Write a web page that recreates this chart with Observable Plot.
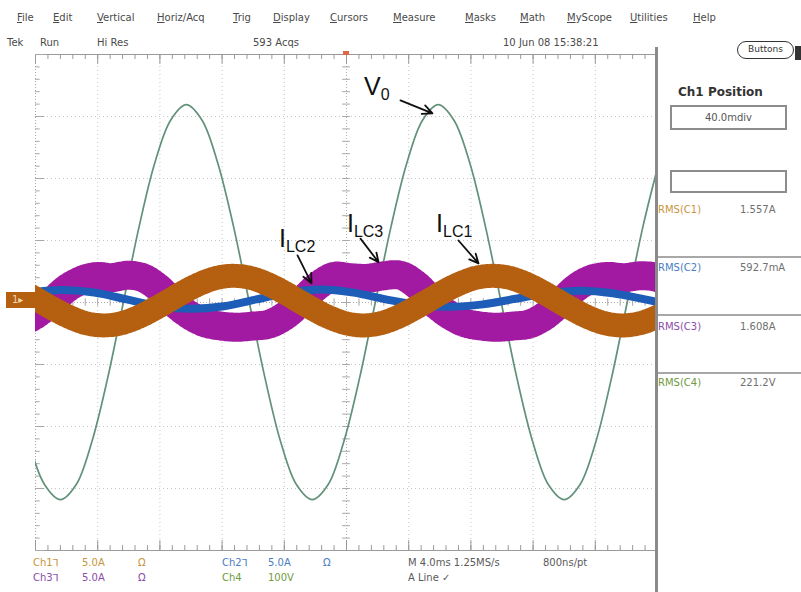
<!DOCTYPE html>
<html>
<head>
<meta charset="utf-8">
<script src="https://cdn.jsdelivr.net/npm/d3@7"></script>
<script src="https://cdn.jsdelivr.net/npm/@observablehq/plot@0.6"></script>
<style>
  body { margin: 0; background: #fff; }
  #scope { position: relative; width: 801px; height: 592px; overflow: hidden;
           font-family: "DejaVu Sans", sans-serif; color: #5a5a5a; background: #fff; }
  #scope svg { position: absolute; left: 0; top: 0; }
  .t { position: absolute; white-space: nowrap; font-size: 10px; line-height: 10px; }
  .box { position: absolute; border: 2px solid #8c8c8c; box-sizing: border-box; }
  .sep { position: absolute; background: #a8a8a8; }
</style>
</head>
<body>
<div id="scope"></div>
<script>
// ---- Waveform samples: time in ms (4 ms/div), amplitude in screen divisions ----
// Ch4: output voltage V0 (100 V/div)
const v0Time = [-20.43,-19.41,-18.40,-17.39,-16.38,-15.36,-14.35,-13.34,-12.33,-11.31,-10.30,-9.29,-8.28,-7.26,-6.25,-5.24,-4.23,-3.21,-2.20,-1.19,-0.18,0.84,1.85,2.86,3.88,4.89,5.90,6.91,7.93,8.94,9.95,10.96,11.98,12.99,14.00,15.01,16.03,17.04,18.05,19.06,20.08];
const v0Div  = [-2.25,-2.94,-3.18,-2.94,-2.25,-1.22,0,1.22,2.25,2.94,3.19,2.94,2.25,1.22,0,-1.22,-2.25,-2.94,-3.18,-2.94,-2.25,-1.22,0,1.22,2.25,2.94,3.19,2.94,2.25,1.22,0,-1.22,-2.25,-2.94,-3.18,-2.94,-2.25,-1.22,0,1.22,2.25];

// Ch1: I_LC1 (5 A/div)
const i1Time = [-20.81,-19.77,-18.73,-17.68,-16.64,-15.60,-14.56,-13.52,-12.47,-11.43,-10.39,-9.35,-8.31,-7.26,-6.22,-5.18,-4.14,-3.10,-2.06,-1.01,0.03,1.07,2.11,3.16,4.20,5.24,6.28,7.32,8.36,9.41,10.45,11.49,12.53,13.57,14.61,15.65,16.70,17.74,18.78,19.82,20.86];
const i1Div  = [0.18,0.03,-0.12,-0.25,-0.34,-0.37,-0.34,-0.25,-0.12,0.03,0.18,0.31,0.40,0.43,0.40,0.31,0.18,0.03,-0.12,-0.25,-0.34,-0.37,-0.34,-0.25,-0.12,0.03,0.18,0.31,0.40,0.43,0.40,0.31,0.18,0.03,-0.12,-0.25,-0.34,-0.37,-0.34,-0.25,-0.12];

// Ch2: I_LC2 (5 A/div)
const i2Time = [-20.38,-18.3,-16.22,-14.13,-12.05,-9.97,-7.88,-5.8,-3.72,-1.63,0.45,2.53,4.62,6.7,8.78,10.87,12.95,15.03,17.12,19.2,21.28];
const i2Div  = [0.16,0.20,0.16,0.05,-0.06,-0.10,-0.06,0.05,0.16,0.21,0.16,0.05,-0.04,-0.07,-0.03,0.06,0.15,0.19,0.15,0.05,-0.06];

// Ch3: I_LC3 (5 A/div)
const i3Time = [-21.0,-20.0,-19.0,-18.02,-17.03,-16.05,-15.07,-14.08,-13.1,-12.11,-11.13,-10.11,-9.09,-8.07,-7.05,-6.02,-5.0,-3.98,-2.96,-1.89,-0.82,0.25,1.32,2.38,3.45,4.52,5.59,6.61,7.63,8.65,9.67,10.7,11.72,12.74,13.76,14.78,15.8,16.82,17.84,18.86,19.88,20.9];
const i3Div  = [-0.33,-0.2,0,0.22,0.36,0.42,0.40,0.44,0.40,0.24,0,-0.2,-0.33,-0.38,-0.40,-0.38,-0.35,-0.22,0,0.26,0.42,0.40,0.39,0.43,0.44,0.28,0,-0.2,-0.33,-0.38,-0.40,-0.38,-0.35,-0.22,0,0.24,0.38,0.42,0.40,0.43,0.41,0.3];

// Ch1 ground reference (Ch1 position 40.0 mdiv)
const ch1Ground = [0.04];

// Trace labels: main letter, subscript, anchor (ms, div) and arrow (ms, div)
const noteMain = ["V", "I", "I", "I"];
const noteSub  = ["0", "LC2", "LC3", "LC1"];
const noteT    = [1.16, -4.31, 0.06, 5.79];
const noteV    = [3.34, 0.89, 1.13, 1.13];
const arrowT1  = [3.47, -3.15, 0.90, 7.20];
const arrowV1  = [3.26, 0.76, 1.03, 1.00];
const arrowT2  = [5.53, -2.25, 2.06, 8.49];
const arrowV2  = [3.05, 0.31, 0.65, 0.63];

// Instrument text
const menuItems = ["File","Edit","Vertical","Horiz/Acq","Trig","Display","Cursors","Measure","Masks","Math","MyScope","Utilities","Help"];
const statusItems = ["Tek", "Run", "Hi Res", "593 Acqs", "10 Jun 08 15:38:21"];
const rmsNames  = ["RMS(C1)", "RMS(C2)", "RMS(C3)", "RMS(C4)"];
const rmsValues = ["1.557A", "592.7mA", "1.608A", "221.2V"];
const chanRow1 = [["Ch1\u2142", "5.0A", "\u03A9"], ["Ch2\u2142", "5.0A", "\u03A9"]];
const chanRow2 = [["Ch3\u2142", "5.0A", "\u03A9"], ["Ch4", "100V", ""]];
const timebase = ["M 4.0ms 1.25MS/s", "800ns/pt", "A  Line  \u2713"];

// ---- Styling ----
const traceColor = {c1: "#b55f10", c2: "#1d5db8", c3: "#a21aa2", c4: "#62917a"};
const textColor  = {c1: "#c8963c", c2: "#4a7ec2", c3: "#8c4caa", c4: "#6f9a40"};
const menuLeft   = [17, 53, 97, 157, 233, 273, 330, 393, 465, 520, 567, 630, 693];
const statusLeft = [7, 40, 97, 253, 503];

const rows = (ts, vs) => ts.map((t, i) => ({t, v: vs[i]}));
const v0 = rows(v0Time, v0Div), i1 = rows(i1Time, i1Div), i2 = rows(i2Time, i2Div), i3 = rows(i3Time, i3Div);
const notes = noteMain.map((m, i) => ({main: m, sub: noteSub[i], t: noteT[i], v: noteV[i],
  t1: arrowT1[i], v1: arrowV1[i], t2: arrowT2[i], v2: arrowV2[i]}));

const divT = d3.range(-20, 20.01, 4);
const divV = d3.range(-4, 4.01, 1);
const minorT = d3.range(-20, 20.01, 0.8);
const minorV = d3.range(-4, 4.01, 0.2);
const curve = "catmull-rom";

const chart = Plot.plot({
  width: 801, height: 592,
  marginLeft: 35, marginRight: 144, marginTop: 54, marginBottom: 42,
  x: {domain: [-20, 20], axis: null},
  y: {domain: [-4, 4], axis: null},
  style: {background: "transparent", overflow: "visible"},
  marks: [
    // graticule
    Plot.ruleX(divT.filter(d => d > -20 && d < 20 && d !== 0), {stroke: "#c4c4c4", strokeDasharray: "1,3"}),
    Plot.ruleY(divV.filter(d => d > -4 && d < 4 && d !== 0), {stroke: "#c4c4c4", strokeDasharray: "1,3"}),
    Plot.ruleX([0], {stroke: "#b0b0b0", strokeDasharray: "1,2"}),
    Plot.ruleY([0], {stroke: "#b0b0b0", strokeDasharray: "1,2"}),
    Plot.ruleX(minorT, {y1: -0.06, y2: 0.06, stroke: "#a8a8a8"}),
    Plot.ruleY(minorV, {x1: -0.25, x2: 0.25, stroke: "#a8a8a8"}),
    Plot.ruleY([4, -4], {stroke: "#9a9a9a"}),
    Plot.ruleX([-20], {stroke: "#a8a8a8", strokeDasharray: "1,2"}),
    Plot.ruleX(minorT, {y1: 4, y2: 3.92, stroke: "#9a9a9a"}),
    Plot.ruleX(minorT, {y1: -4, y2: -3.92, stroke: "#9a9a9a"}),
    Plot.ruleX(divT, {y1: 4, y2: 3.84, stroke: "#9a9a9a"}),
    Plot.ruleX(divT, {y1: -4, y2: -3.84, stroke: "#9a9a9a"}),
    Plot.ruleY(minorV, {x1: -20, x2: -19.7, stroke: "#a8a8a8"}),
    Plot.ruleY(divV, {x1: -20, x2: -19.4, stroke: "#a8a8a8"}),
    // Ch4 output voltage
    Plot.line(v0, {x: "t", y: "v", stroke: traceColor.c4, strokeWidth: 1.7, curve, clip: true}),
    // Ch3 current (noisy band)
    Plot.line(i3, {x: "t", y: "v", stroke: traceColor.c3, strokeWidth: 29, strokeDasharray: "1,3", curve, clip: true}),
    Plot.line(i3, {x: "t", y: "v", stroke: traceColor.c3, strokeWidth: 24, strokeDasharray: "2,1.5", curve, clip: true}),
    Plot.line(i3, {x: "t", y: "v", stroke: traceColor.c3, strokeWidth: 16, curve, clip: true}),
    // Ch2 current
    Plot.line(i2, {x: "t", y: "v", stroke: traceColor.c2, strokeWidth: 8, curve, clip: true}),
    // Ch1 current (noisy band)
    Plot.line(i1, {x: "t", y: "v", stroke: traceColor.c1, strokeWidth: 24, strokeDasharray: "1,3", curve, clip: true}),
    Plot.line(i1, {x: "t", y: "v", stroke: traceColor.c1, strokeWidth: 19, strokeDasharray: "2,1.5", curve, clip: true}),
    Plot.line(i1, {x: "t", y: "v", stroke: traceColor.c1, strokeWidth: 14, curve, clip: true}),
    // label arrows
    Plot.arrow(notes, {x1: "t1", y1: "v1", x2: "t2", y2: "v2", stroke: "#111", strokeWidth: 1.8, headLength: 9, headAngle: 50})
  ]
});

const scope = document.getElementById("scope");
scope.appendChild(chart);

// trace labels with subscripts, placed through the chart's scales
const xs = chart.scale("x"), ys = chart.scale("y");
const svg = d3.select(chart);
for (const n of notes) {
  const txt = svg.append("text")
    .attr("x", xs.apply(n.t)).attr("y", ys.apply(n.v))
    .attr("text-anchor", "start")
    .style("font-family", "'Liberation Sans', Arial, sans-serif")
    .style("font-size", "25px").attr("fill", "#111");
  txt.append("tspan").text(n.main);
  txt.append("tspan").style("font-size", "16px").attr("dy", 5).text(n.sub);
}

// ---- instrument screen text (HTML overlay) ----
function addText(str, left, top, opts = {}) {
  const d = document.createElement("div");
  d.className = "t";
  d.style.left = left + "px";
  d.style.top = top + "px";
  if (opts.color) d.style.color = opts.color;
  if (opts.size) { d.style.fontSize = opts.size + "px"; d.style.lineHeight = opts.size + "px"; }
  if (opts.weight) d.style.fontWeight = opts.weight;
  if (opts.underline) d.innerHTML = "<u>" + str[0] + "</u>" + str.slice(1);
  else d.textContent = str;
  scope.appendChild(d);
  return d;
}
function addBlock(cls, left, top, w, h, extra = {}) {
  const d = document.createElement("div");
  d.className = cls;
  Object.assign(d.style, {left: left + "px", top: top + "px", width: w + "px", height: h + "px"}, extra);
  scope.appendChild(d);
  return d;
}

menuItems.forEach((m, i) => addText(m, menuLeft[i], 13, {underline: true, color: "#4a4a4a"}));
statusItems.forEach((s, i) => addText(s, statusLeft[i], 38, {color: "#4a4a4a"}));

// right-hand panel
addBlock("sep", 655, 47, 3, 545, {background: "#8a8a8a"});
const btn = addBlock("box", 737, 41, 57, 18, {border: "1.5px solid #333", borderRadius: "9px"});
btn.innerHTML = '<div style="font-size:9px;line-height:15px;text-align:center;color:#333">Buttons</div>';
addBlock("sep", 795, 46, 6, 14, {background: "#333"});
addText("Ch1 Position", 678, 86, {size: 12, weight: "bold", color: "#333"});
const posBox = addBlock("box", 670, 105, 117, 25);
posBox.innerHTML = '<div style="font-size:10px;line-height:21px;text-align:center;color:#555">40.0mdiv</div>';
addBlock("box", 670, 170, 117, 23);
const rmsY = [205, 263, 322, 378];
const rmsCol = [textColor.c1, textColor.c2, textColor.c3, textColor.c4];
rmsNames.forEach((r, i) => {
  addText(r, 658, rmsY[i], {color: rmsCol[i]});
  addText(rmsValues[i], 740, rmsY[i], {color: "#707070"});
});
[256, 314, 372].forEach(y => addBlock("sep", 658, y, 143, 2));

// Ch1 ground marker
const gy = ys.apply(ch1Ground[0]);
const mk = addBlock("sep", 6, gy - 8, 29, 16, {background: traceColor.c1});
mk.innerHTML = '<div style="font-size:10px;line-height:16px;color:#f3d7b0;padding-left:6px">1&#x25B8;</div>';

// trigger position marker
addBlock("sep", xs.apply(0) - 3, 51, 6, 4, {background: "#e0684a"});

// channel settings and timebase
const rowCols1 = [textColor.c1, textColor.c2], rowCols2 = [textColor.c3, textColor.c4];
const colLeft = [[33, 82, 138], [222, 268, 323]];
chanRow1.forEach((c, j) => c.forEach((s, k) => addText(s, colLeft[j][k], 558, {color: rowCols1[j]})));
chanRow2.forEach((c, j) => c.forEach((s, k) => addText(s, colLeft[j][k], 573, {color: rowCols2[j]})));
addText(timebase[0], 408, 558);
addText(timebase[1], 543, 558);
addText(timebase[2], 408, 573);
</script>
</body>
</html>
